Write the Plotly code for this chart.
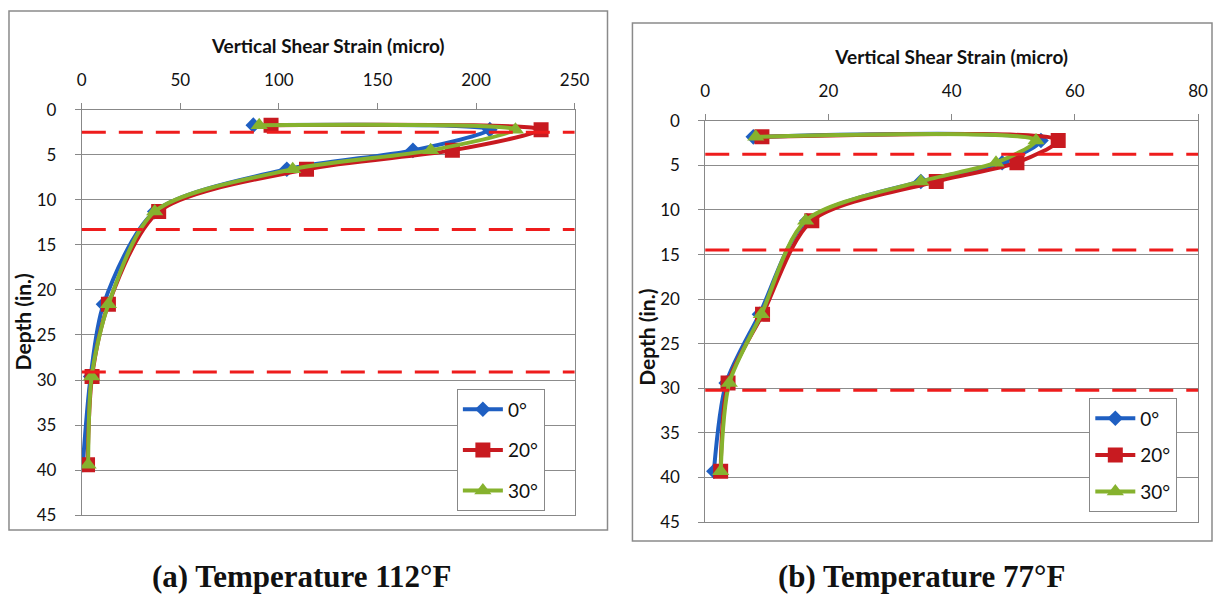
import plotly.graph_objects as go

W, H = 1227, 598

# ---------------- data ----------------
depth_a = [1.7, 2.2, 4.5, 6.6, 11.3, 21.6, 29.6, 39.4]
strain_a_0 = [87, 207, 168, 104, 37, 11, 4.5, 0.5]
strain_a_20 = [96, 233, 188, 114, 39, 13.5, 5.2, 2.9]
strain_a_30 = [90, 220, 177, 107, 37, 13.5, 5.0, 3.2]
dash_a = [2.5, 13.3, 29.1]

depth_b = [1.8, 2.2, 4.7, 6.8, 11.2, 21.7, 29.4, 39.3]
strain_b_0 = [7.8, 54.5, 48.2, 35.0, 16.5, 8.8, 3.4, 1.4]
strain_b_20 = [9.2, 57.3, 50.6, 37.5, 17.3, 9.3, 3.7, 2.5]
strain_b_30 = [8.2, 53.7, 47.2, 35.0, 16.3, 9.1, 3.9, 2.5]
dash_b = [3.75, 14.5, 30.2]

series_names = ["0°", "20°", "30°"]
colors = ["#1f5fc2", "#c81a20", "#86b22e"]
symbols = ["diamond", "square", "triangle-up"]
msizes = [12, 15, 15]

xtitle = "Vertical Shear Strain (micro)"
ytitle = "Depth (in.)"
caption_a = "(a) Temperature 112°F"
caption_b = "(b) Temperature 77°F"


def px(x):
    return min(1.0, max(0.0, (x - 3) / 1210))


def py(y):
    return min(1.0, max(0.0, 1 - (y - 10) / 578))


fig = go.Figure()

panels = [
    ("x", "y", "legend", depth_a, [strain_a_0, strain_a_20, strain_a_30]),
    ("x2", "y2", "legend2", depth_b, [strain_b_0, strain_b_20, strain_b_30]),
]
for xa, ya, leg, depth, series in panels:
    for i, s in enumerate(series):
        fig.add_trace(go.Scatter(
            x=s, y=depth, xaxis=xa, yaxis=ya, legend=leg,
            name=series_names[i], legendgroup=leg + str(i),
            mode="lines+markers",
            line=dict(color=colors[i], width=4, shape="spline", smoothing=0.8),
            marker=dict(symbol=symbols[i], size=msizes[i], color=colors[i]),
        ))

# dashed red reference lines
for xr, yr, vals in [("x domain", "y", dash_a), ("x2 domain", "y2", dash_b)]:
    for v in vals:
        fig.add_shape(type="line", xref=xr, yref=yr, x0=0, x1=1, y0=v, y1=v,
                      line=dict(color="#ee1c1c", width=3, dash="24px,13px"))

# outer panel frames
fig.add_shape(type="rect", xref="paper", yref="paper",
              x0=px(7), x1=px(607), y0=py(530), y1=py(8),
              line=dict(color="#8a8a8a", width=1.5))
fig.add_shape(type="rect", xref="paper", yref="paper",
              x0=px(632), x1=px(1224), y0=py(541), y1=py(22),
              line=dict(color="#8a8a8a", width=1.5))

tickfont = dict(family="Lato", size=17, color="#111")
xtitlefont = dict(family="Lato", size=19, color="#111", weight="bold")
ytitlefont = dict(family="Lato", size=21, color="#111", weight="bold")

common_x = dict(side="top", showgrid=False, ticks="outside", ticklen=6,
                tickcolor="#888", showline=True, linecolor="#888", linewidth=1,
                mirror=True, zeroline=False, tickfont=tickfont,
                ticklabelstandoff=10,
                title=dict(text=xtitle, font=xtitlefont, standoff=10))
common_y = dict(showgrid=True, gridcolor="#8c8c8c", gridwidth=1, dtick=5,
                ticks="outside", ticklen=6, tickcolor="#888", showline=True,
                linecolor="#888", linewidth=1, mirror=True, zeroline=False,
                tickfont=tickfont, ticklabelstandoff=15)

legfont = dict(family="Lato", size=19, color="#111")
fig.update_layout(
    width=W, height=H,
    margin=dict(l=0, r=0, t=0, b=0),
    paper_bgcolor="white", plot_bgcolor="white",
    xaxis=dict(common_x, domain=[px(80), px(574)], range=[0, 250], dtick=50,
               anchor="y"),
    yaxis=dict(common_y, domain=[py(515), py(109)], range=[45, 0],
               anchor="x"),
    xaxis2=dict(common_x, domain=[px(705), px(1199)], range=[0, 80], dtick=20,
                anchor="y2"),
    yaxis2=dict(common_y, domain=[py(522), py(120)], range=[45, 0],
                anchor="x2"),
    legend=dict(x=px(456), y=py(389), xanchor="left", yanchor="top",
                bgcolor="white", bordercolor="#888", borderwidth=1,
                font=legfont, tracegroupgap=13, itemwidth=40),
    legend2=dict(x=px(1090), y=py(398), xanchor="left", yanchor="top",
                 bgcolor="white", bordercolor="#888", borderwidth=1,
                 font=legfont, tracegroupgap=9, itemwidth=40),
    annotations=[
        dict(text=ytitle, xref="paper", yref="paper", x=px(21), y=py(321),
             textangle=-90, showarrow=False, xanchor="center",
             yanchor="middle", font=ytitlefont),
        dict(text=ytitle, xref="paper", yref="paper", x=px(646), y=py(337),
             textangle=-90, showarrow=False, xanchor="center",
             yanchor="middle", font=ytitlefont),
        dict(text=caption_a, xref="paper", yref="paper", x=px(300), y=py(576),
             showarrow=False, xanchor="center", yanchor="middle",
             font=dict(family="Liberation Serif", size=31, color="#111",
                       weight="bold")),
        dict(text=caption_b, xref="paper", yref="paper", x=px(922), y=py(576),
             showarrow=False, xanchor="center", yanchor="middle",
             font=dict(family="Liberation Serif", size=31, color="#111",
                       weight="bold")),
    ],
    showlegend=True,
)

fig.write_html(
    "out.html",
    post_script="document.body.style.margin='0';"
                "document.body.style.overflow='hidden';",
)
